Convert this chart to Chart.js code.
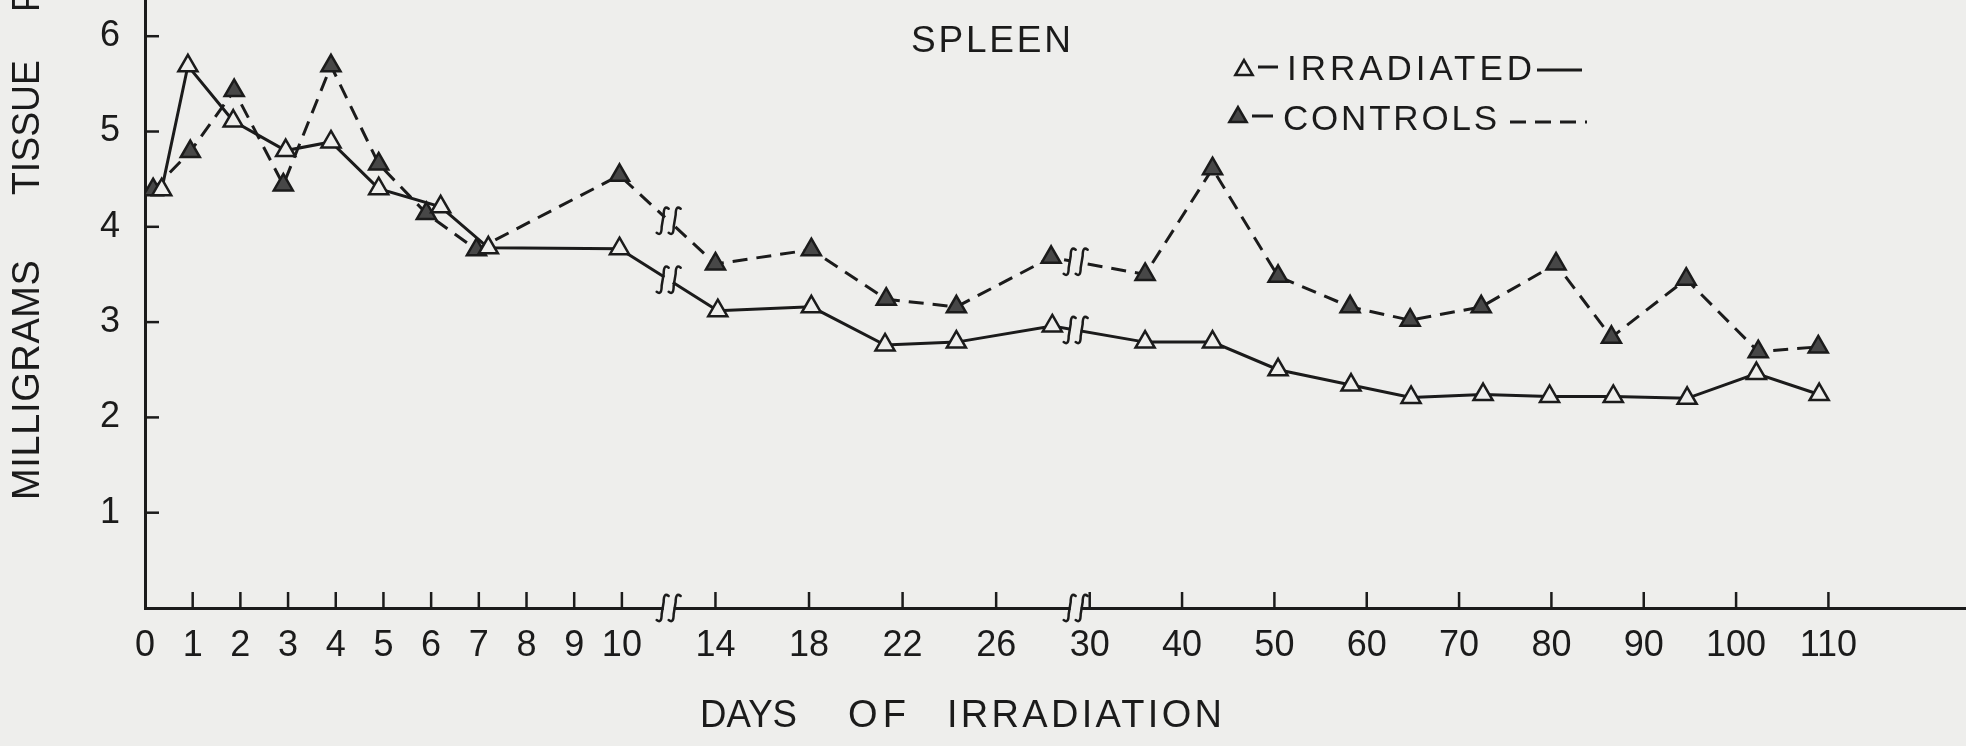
<!DOCTYPE html>
<html>
<head>
<meta charset="utf-8">
<script src="https://cdn.jsdelivr.net/npm/chart.js@4.4.1/dist/chart.umd.min.js"></script>
<style>
  html, body { margin: 0; padding: 0; background: #eeeeec; overflow: hidden; }
  canvas { display: block; }
</style>
</head>
<body>
<canvas id="c" width="1966" height="746"></canvas>
<script>
// ---------------- data ----------------
const CHART_TITLE = 'SPLEEN';
const X_TITLE_WORDS = ['DAYS', 'OF', 'IRRADIATION'];
const Y_TITLE_WORDS = ['MILLIGRAMS', 'TISSUE', 'P'];
const SERIES_NAMES = ['IRRADIATED', 'CONTROLS'];

const X_TICK_DAYS = [0, 1, 2, 3, 4, 5, 6, 7, 8, 9, 10, 14, 18, 22, 26, 30, 40, 50, 60, 70, 80, 90, 100, 110];
const Y_TICKS = [1, 2, 3, 4, 5, 6];
const BREAK_DAYS = [12, 29.4];

// broken axis: day -> axis unit (0-10 daily, 10-30 and 30-110 compressed)
const SEGMENT_DAYS = [0, 10, 30, 110];
const SEGMENT_UNITS = [0, 10, 19.81, 35.30];
const X_MAX_DAY = 124.9;
const Y_MAX = 6.38;

const IRR_DAYS   = [0.35, 0.9, 1.85, 2.95, 3.9, 4.9, 6.2, 7.2, 9.95, 14.1, 18.1, 21.25, 24.3, 28.4, 36, 43.3, 50.4, 58.3, 64.8, 72.6, 79.8, 86.7, 94.7, 102.2, 109];
const IRR_VALUES = [4.39, 5.69, 5.11, 4.80, 4.89, 4.40, 4.21, 3.78, 3.77, 3.12, 3.16, 2.76, 2.79, 2.96, 2.79, 2.79, 2.50, 2.34, 2.21, 2.24, 2.22, 2.22, 2.20, 2.46, 2.24];

const CTRL_DAYS   = [0.17, 0.95, 1.87, 2.9, 3.9, 4.9, 5.9, 6.95, 9.95, 14, 18.1, 21.3, 24.3, 28.35, 36, 43.3, 50.4, 58.2, 64.7, 72.4, 80.5, 86.5, 94.6, 102.4, 108.9];
const CTRL_VALUES = [4.39, 4.79, 5.43, 4.44, 5.69, 4.66, 4.14, 3.76, 4.54, 3.61, 3.76, 3.24, 3.16, 3.68, 3.50, 4.61, 3.48, 3.16, 3.02, 3.16, 3.61, 2.84, 3.45, 2.69, 2.74];

// ---------------- styles ----------------
const PAPER = '#eeeeec';
const INK = '#1b1b1b';
const FILLED = '#474747';
const FONT = '"Liberation Sans", Arial, sans-serif';

function dayToUnit(d) {
  for (let i = 0; i < SEGMENT_DAYS.length - 1; i++) {
    const d0 = SEGMENT_DAYS[i], d1 = SEGMENT_DAYS[i + 1];
    if (d <= d1 || i === SEGMENT_DAYS.length - 2) {
      const u0 = SEGMENT_UNITS[i], u1 = SEGMENT_UNITS[i + 1];
      return u0 + (d - d0) * (u1 - u0) / (d1 - d0);
    }
  }
}
function unitToDay(u) {
  for (let i = 0; i < SEGMENT_UNITS.length - 1; i++) {
    const u0 = SEGMENT_UNITS[i], u1 = SEGMENT_UNITS[i + 1];
    if (u <= u1 || i === SEGMENT_UNITS.length - 2) {
      const d0 = SEGMENT_DAYS[i], d1 = SEGMENT_DAYS[i + 1];
      return d0 + (u - u0) * (d1 - d0) / (u1 - u0);
    }
  }
}

// linear scale in days whose pixel mapping follows the broken (piecewise) axis
class BrokenAxis extends Chart.LinearScale {
  getPixelForValue(v) {
    const u0 = dayToUnit(this.min), u1 = dayToUnit(this.max);
    return this.getPixelForDecimal((dayToUnit(v) - u0) / (u1 - u0));
  }
  getValueForPixel(p) {
    const u0 = dayToUnit(this.min), u1 = dayToUnit(this.max);
    return unitToDay(u0 + this.getDecimalForPixel(p) * (u1 - u0));
  }
  buildTicks() {
    this.start = this.min; this.end = this.max;
    return X_TICK_DAYS.map(v => ({ value: v }));
  }
}
BrokenAxis.id = 'brokenAxis';
BrokenAxis.defaults = Chart.LinearScale.defaults;
Chart.register(BrokenAxis);

function fitText(c, text, left, right, baseline) {
  c.letterSpacing = '0px';
  const w = c.measureText(text).width;
  const target = right - left;
  if (text.length > 1 && w < target) {
    c.letterSpacing = ((target - w) / (text.length - 1)).toFixed(2) + 'px';
    c.fillText(text, left, baseline);
  } else {
    c.fillText(text, left, baseline, target);
  }
  c.letterSpacing = '0px';
}

function triangle(c, x, y, r, fill) {
  c.beginPath();
  for (let k = 0; k < 3; k++) {
    const a = k * 2 * Math.PI / 3;
    const px = x + Math.sin(a) * r, py = y - Math.cos(a) * r;
    if (k === 0) c.moveTo(px, py); else c.lineTo(px, py);
  }
  c.closePath();
  c.fillStyle = fill; c.fill();
  c.lineWidth = 2.5; c.strokeStyle = INK; c.stroke();
}

function breakMark(c, x, y, angle, patchH) {
  c.save();
  c.translate(x, y);
  c.save();
  c.rotate(angle);
  c.fillStyle = PAPER;
  c.fillRect(-5, -patchH / 2, 10, patchH);
  c.restore();
  c.strokeStyle = INK; c.lineWidth = 2.5; c.lineCap = 'round';
  for (const o of [-6, 6]) {
    c.beginPath();
    c.moveTo(o + 6, -12);
    c.quadraticCurveTo(o + 1, -16, o + 1, -6);
    c.lineTo(o - 1, 6);
    c.quadraticCurveTo(o - 1, 16, o - 6, 12);
    c.stroke();
  }
  c.restore();
}

const decor = {
  id: 'decor',
  beforeDraw(chart) {
    const c = chart.ctx;
    c.save(); c.fillStyle = PAPER; c.fillRect(0, 0, chart.width, chart.height); c.restore();
  },
  afterDatasetsDraw(chart) {
    const c = chart.ctx;
    const xs = chart.scales.x;
    const dayLists = [IRR_DAYS, CTRL_DAYS];
    chart.data.datasets.forEach((ds, di) => {
      const pts = chart.getDatasetMeta(di).data;
      const days = dayLists[di];
      BREAK_DAYS.forEach(b => {
        for (let i = 0; i < days.length - 1; i++) {
          if (days[i] <= b && b < days[i + 1]) {
            const p0 = pts[i], p1 = pts[i + 1];
            const px = xs.getPixelForValue(b);
            const t = (px - p0.x) / (p1.x - p0.x);
            const py = p0.y + t * (p1.y - p0.y);
            breakMark(c, px, py, Math.atan2(p1.y - p0.y, p1.x - p0.x), 8);
            break;
          }
        }
      });
    });
  },
  afterDraw(chart) {
    const c = chart.ctx;
    const a = chart.chartArea;
    const xs = chart.scales.x, ys = chart.scales.y;
    c.save();
    c.strokeStyle = INK; c.lineWidth = 2.5; c.lineCap = 'butt';
    // inward tick marks
    X_TICK_DAYS.forEach(d => {
      if (d === 0) return;
      const x = xs.getPixelForValue(d);
      c.beginPath(); c.moveTo(x, a.bottom); c.lineTo(x, a.bottom - 16); c.stroke();
    });
    Y_TICKS.forEach(v => {
      const y = ys.getPixelForValue(v);
      c.beginPath(); c.moveTo(a.left, y); c.lineTo(a.left + 14, y); c.stroke();
    });
    // axis breaks
    BREAK_DAYS.forEach(b => breakMark(c, xs.getPixelForValue(b), a.bottom, 0, 6));

    c.fillStyle = INK;
    c.textBaseline = 'alphabetic';
    c.textAlign = 'left';
    // title
    c.font = '37px ' + FONT;
    fitText(c, CHART_TITLE, 911, 1071, 52);
    // x axis title
    c.font = '38px ' + FONT;
    fitText(c, X_TITLE_WORDS[0], 700, 797, 727);
    fitText(c, X_TITLE_WORDS[1], 848, 906, 727);
    fitText(c, X_TITLE_WORDS[2], 947, 1222, 727);
    // y axis title (rotated, reading upwards)
    c.save();
    c.translate(29, 500);
    c.rotate(-Math.PI / 2);
    c.textBaseline = 'middle';
    c.font = '38px ' + FONT;
    fitText(c, Y_TITLE_WORDS[0], 0, 240, 0);
    fitText(c, Y_TITLE_WORDS[1], 305, 440, 0);
    fitText(c, Y_TITLE_WORDS[2], 488, 512, 0);
    c.restore();

    // legend
    c.font = '35px ' + FONT;
    triangle(c, 1244, 70, 10, PAPER);
    c.fillStyle = INK;
    c.lineWidth = 3;
    c.beginPath(); c.moveTo(1258, 67); c.lineTo(1278, 67); c.stroke();
    fitText(c, SERIES_NAMES[0], 1287, 1532, 80);
    c.beginPath(); c.moveTo(1537, 70); c.lineTo(1582, 70); c.stroke();

    triangle(c, 1238, 117, 10, FILLED);
    c.fillStyle = INK;
    c.lineWidth = 3;
    c.beginPath(); c.moveTo(1252, 116); c.lineTo(1273, 116); c.stroke();
    fitText(c, SERIES_NAMES[1], 1283, 1497, 130);
    c.setLineDash([16, 9]);
    c.beginPath(); c.moveTo(1510, 122); c.lineTo(1587, 122); c.stroke();
    c.setLineDash([]);
    c.restore();
  }
};

const ctx = document.getElementById('c');
new Chart(ctx, {
  type: 'line',
  data: {
    datasets: [
      {
        label: SERIES_NAMES[0],
        data: IRR_DAYS.map((d, i) => ({ x: d, y: IRR_VALUES[i] })),
        borderColor: INK,
        borderWidth: 3,
        tension: 0,
        pointStyle: 'triangle',
        pointRadius: 11,
        pointBackgroundColor: PAPER,
        pointBorderColor: INK,
        pointBorderWidth: 2.5
      },
      {
        label: SERIES_NAMES[1],
        data: CTRL_DAYS.map((d, i) => ({ x: d, y: CTRL_VALUES[i] })),
        borderColor: INK,
        borderWidth: 3,
        borderDash: [15, 9],
        tension: 0,
        pointStyle: 'triangle',
        pointRadius: 11,
        pointBackgroundColor: FILLED,
        pointBorderColor: INK,
        pointBorderWidth: 2.5
      }
    ]
  },
  options: {
    responsive: false,
    animation: false,
    layout: { padding: 0, autoPadding: false },
    plugins: { legend: { display: false }, tooltip: { enabled: false }, title: { display: false } },
    scales: {
      x: {
        type: 'brokenAxis',
        position: 'bottom',
        min: 0,
        max: X_MAX_DAY,
        grid: { display: false },
        border: { display: true, color: INK, width: 3 },
        ticks: {
          autoSkip: false, maxRotation: 0, minRotation: 0,
          padding: 8, color: INK,
          font: { family: FONT, size: 36 },
          callback: v => String(v)
        },
        afterFit(s) { s.height = 138; s.paddingLeft = 0; s.paddingRight = 0; }
      },
      y: {
        type: 'linear',
        position: 'left',
        min: 0,
        max: Y_MAX,
        afterBuildTicks(s) { s.ticks = Y_TICKS.map(v => ({ value: v })); },
        grid: { display: false },
        border: { display: true, color: INK, width: 3 },
        ticks: {
          padding: 17, color: INK,
          font: { family: FONT, size: 36 },
          callback: v => String(v)
        },
        afterFit(s) { s.width = 145; s.paddingTop = 0; s.paddingBottom = 0; }
      }
    }
  },
  plugins: [decor]
});
</script>
</body>
</html>
